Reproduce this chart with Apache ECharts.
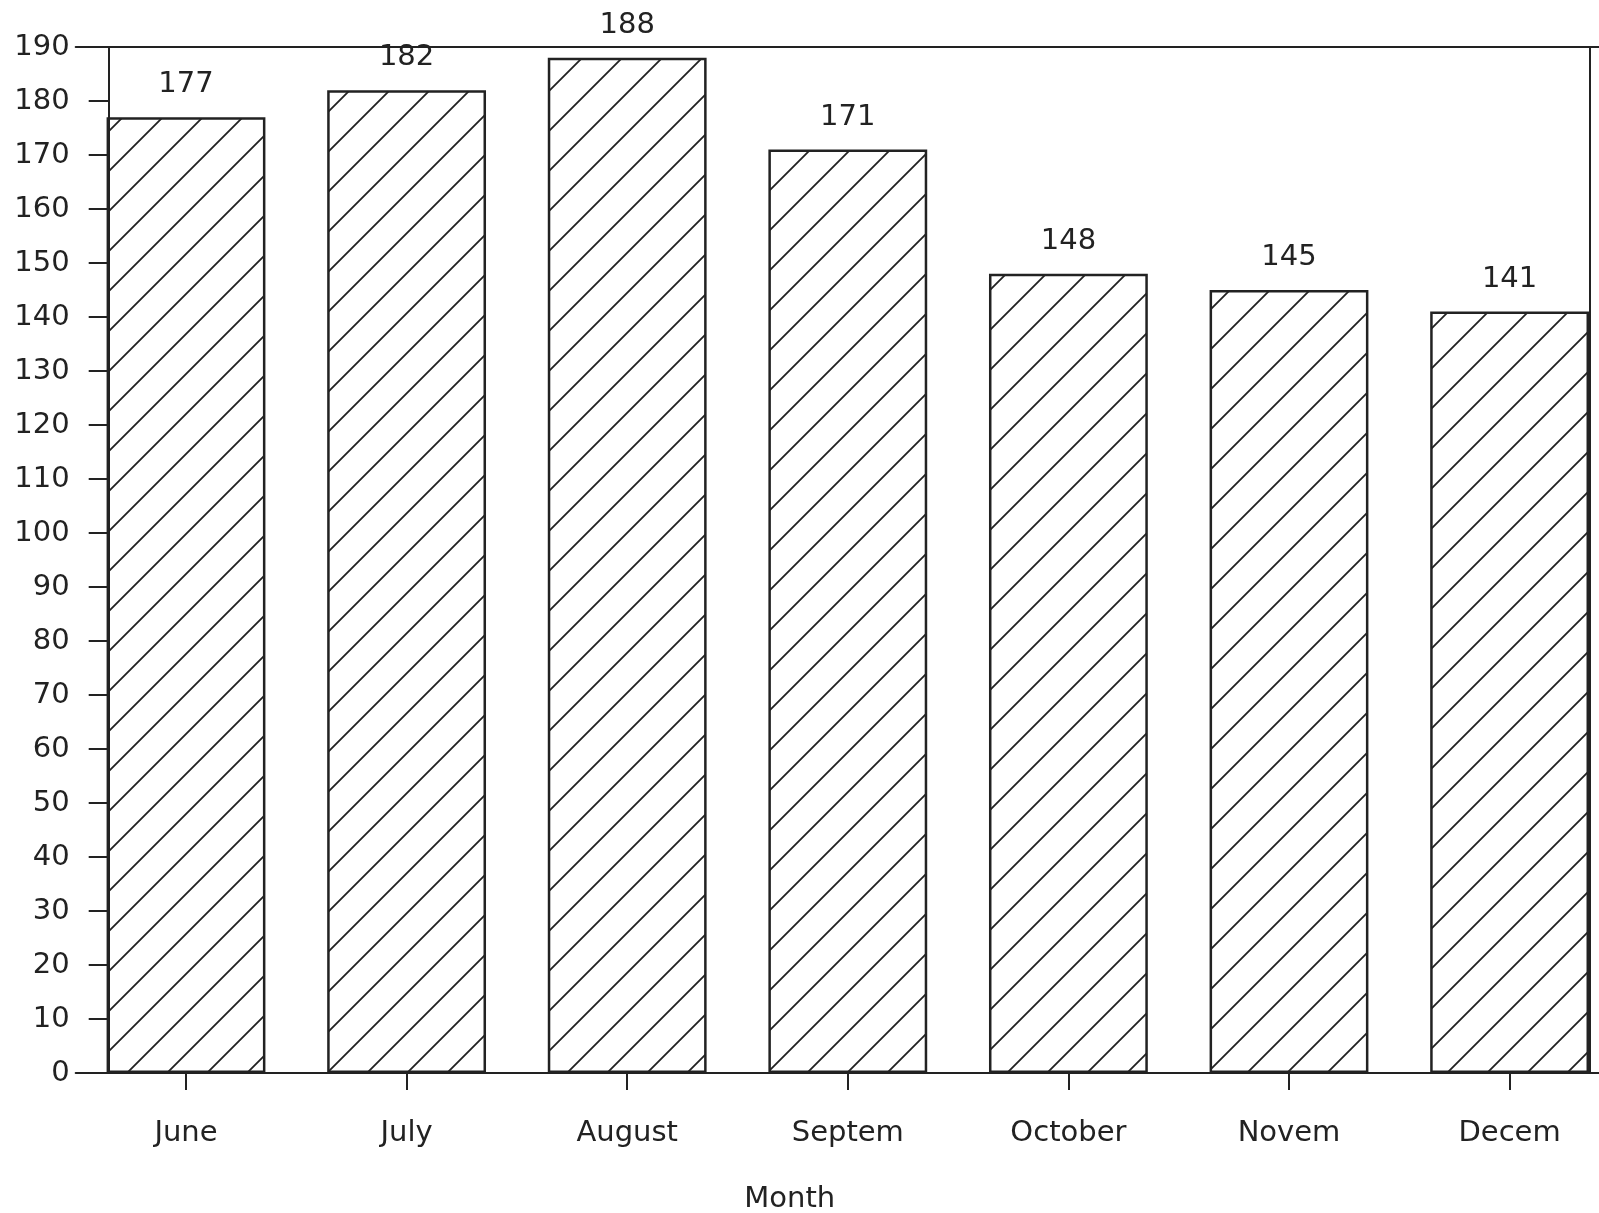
<!DOCTYPE html>
<html>
<head>
<meta charset="utf-8">
<script src="https://cdn.jsdelivr.net/npm/echarts@6/dist/echarts.min.js"></script>
<style>
html,body{margin:0;padding:0;background:#fff;}
#chart{width:1599px;height:1213px;}
</style>
</head>
<body>
<div id="chart"></div>
<script>
const categories = ['June', 'July', 'August', 'Septem', 'October', 'Novem', 'Decem'];
const values = [177, 182, 188, 171, 148, 145, 141];
const yMin = 0, yMax = 190, yStep = 10;
const xName = 'Month';

// diagonal hatch pattern
const tile = document.createElement('canvas');
tile.width = 40; tile.height = 40;
const c = tile.getContext('2d');
c.strokeStyle = '#222';
c.lineWidth = 1.8;
c.beginPath();
c.moveTo(-5, 45); c.lineTo(45, -5);
c.moveTo(-5, 5); c.lineTo(5, -5);
c.moveTo(35, 45); c.lineTo(45, 35);
c.stroke();

const font = 'DejaVu Sans';
const ink = '#222';

const chart = echarts.init(document.getElementById('chart'), null, {renderer: 'canvas'});
chart.setOption({
  backgroundColor: '#fff',
  animation: false,
  grid: {left: 75.7, width: 1544.2, top: 47, bottom: 140, containLabel: false, outerBoundsMode: 'none'},
  xAxis: [{
    type: 'category',
    data: categories,
    position: 'bottom',
    boundaryGap: true,
    axisLine: {show: true, onZero: false, lineStyle: {color: ink, width: 2}},
    axisTick: {show: true, alignWithLabel: true, length: 17, lineStyle: {color: ink, width: 2}},
    axisLabel: {color: ink, fontFamily: font, fontSize: 29, margin: 46},
    name: xName,
    nameLocation: 'middle',
    nameGap: 112,
    nameTextStyle: {color: ink, fontFamily: font, fontSize: 29, padding: [0, 116, 0, 0]},
    splitLine: {show: false}
  }, {
    type: 'category',
    data: categories,
    position: 'top',
    axisLine: {show: true, onZero: false, lineStyle: {color: ink, width: 2}},
    axisTick: {show: false},
    axisLabel: {show: false},
    splitLine: {show: false}
  }],
  yAxis: [{
    type: 'value',
    min: yMin, max: yMax, interval: yStep,
    position: 'left',
    offset: -33,
    axisLine: {show: true, onZero: false, lineStyle: {color: ink, width: 2}},
    axisTick: {show: true, length: 20, lineStyle: {color: ink, width: 2}},
    axisLabel: {color: ink, fontFamily: font, fontSize: 29, margin: 39},
    splitLine: {show: false}
  }, {
    type: 'value',
    min: yMin, max: yMax, interval: yStep,
    position: 'right',
    offset: -30,
    axisLine: {show: true, onZero: false, lineStyle: {color: ink, width: 2}},
    axisTick: {show: false},
    axisLabel: {show: false},
    splitLine: {show: false}
  }],
  series: [{
    type: 'bar',
    data: values,
    xAxisIndex: 0,
    yAxisIndex: 0,
    barCategoryGap: '28%',
    itemStyle: {
      color: {image: tile, repeat: 'repeat'},
      borderColor: ink,
      borderWidth: 2.5
    },
    label: {
      show: true,
      position: 'top',
      distance: 18,
      color: ink,
      fontFamily: font,
      fontSize: 29
    }
  }]
});
</script>
</body>
</html>
